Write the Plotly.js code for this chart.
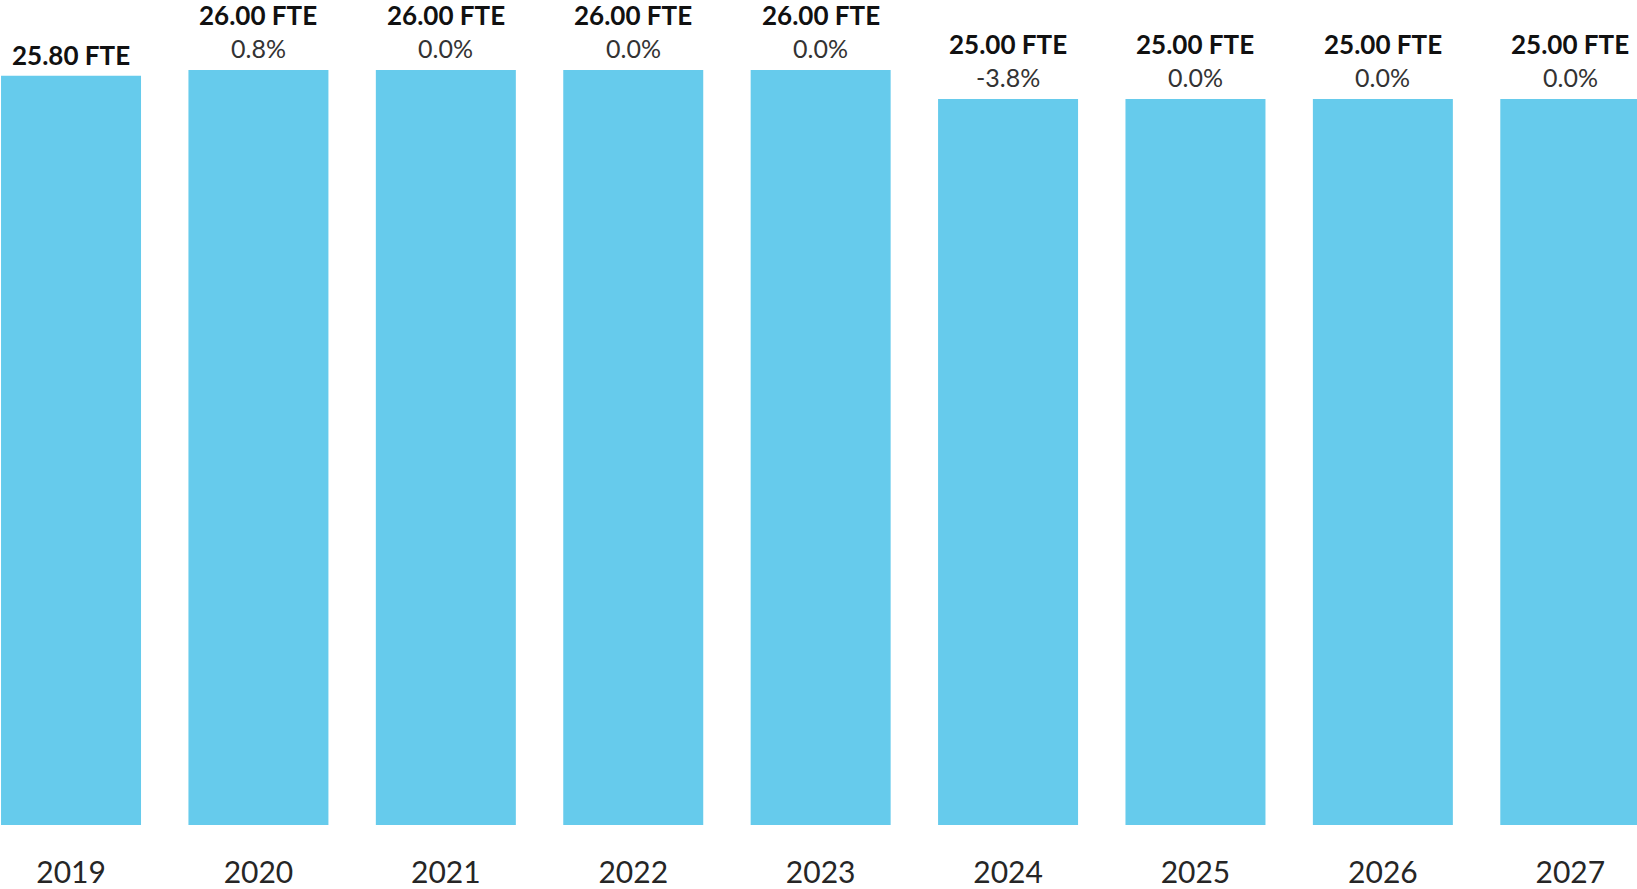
<!DOCTYPE html>
<html>
<head>
<meta charset="utf-8">
<script src="https://cdn.plot.ly/plotly-3.0.1.min.js"></script>
<style>
html,body{margin:0;padding:0;background:#fff;}
#chart{width:1637px;height:889px;}
</style>
</head>
<body>
<div id="chart"></div>
<script>
const years = ["2019","2020","2021","2022","2023","2024","2025","2026","2027"];
const fte = [25.80, 26.00, 26.00, 26.00, 26.00, 25.00, 25.00, 25.00, 25.00];
const pctLabels = ["", "0.8%", "0.0%", "0.0%", "0.0%", "-3.8%", "0.0%", "0.0%", "0.0%"];

const FONT = "Lato, 'Open Sans', sans-serif";
const annotations = [];
years.forEach((yr, i) => {
  const hasPct = pctLabels[i] !== "";
  annotations.push({
    x: i, y: fte[i], xref: "x", yref: "y",
    text: "<b>" + fte[i].toFixed(2) + " FTE</b>",
    showarrow: false, yanchor: "middle", xanchor: "center",
    yshift: hasPct ? 55 : 21, borderpad: 0,
    font: {family: FONT, size: 26, color: "#111111"}
  });
  if (hasPct) {
    annotations.push({
      x: i, y: fte[i], xref: "x", yref: "y",
      text: pctLabels[i],
      showarrow: false, yanchor: "middle", xanchor: "center",
      yshift: 22, borderpad: 0,
      font: {family: FONT, size: 25, color: "#333333"}
    });
  }
});

const data = [{
  type: "bar",
  x: years,
  y: fte,
  marker: {color: "#66CBEC"},
  hoverinfo: "none"
}];

const layout = {
  width: 1637, height: 889,
  margin: {l: 0, r: 0, t: 0, b: 64, pad: 0},
  paper_bgcolor: "#ffffff", plot_bgcolor: "#ffffff",
  showlegend: false,
  bargap: 0.253,
  xaxis: {
    type: "category",
    range: [-0.379, 8.356],
    showgrid: false, zeroline: false, showline: false,
    ticks: "", ticklabelstandoff: 27,
    tickfont: {family: FONT, size: 30, color: "#262626"}
  },
  yaxis: {
    range: [0, 28.41],
    visible: false, showgrid: false, zeroline: false
  },
  annotations: annotations
};

Plotly.newPlot("chart", data, layout, {displayModeBar: false, staticPlot: true});
</script>
</body>
</html>
